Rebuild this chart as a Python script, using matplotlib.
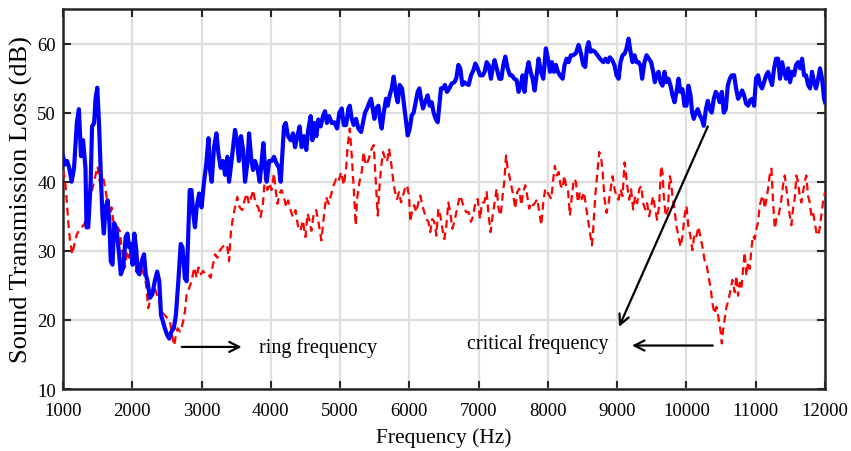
import numpy as np
import matplotlib
matplotlib.use("Agg")
import matplotlib.pyplot as plt

plt.rcParams['font.family'] = ['Liberation Serif', 'DejaVu Serif']

# blue curve (solid)
freq_blue = [1000, 1030, 1060, 1090, 1125, 1160, 1200, 1230, 1260, 1290, 1325, 1340, 1365, 1400, 1420,
             1450, 1470, 1495, 1520, 1550, 1570, 1590, 1615, 1645, 1670, 1690, 1715, 1740, 1775, 1810,
             1835, 1870, 1905, 1930, 1955, 1975, 2005, 2030, 2060, 2075, 2105, 2135, 2170, 2195, 2220,
             2255, 2290, 2325, 2360, 2390, 2415, 2445, 2470, 2505, 2535, 2565, 2600, 2630, 2665, 2700,
             2725, 2760, 2785, 2810, 2830, 2855, 2880, 2905, 2930, 2965, 3000, 3036, 3070, 3100, 3122,
             3147, 3180, 3215, 3245, 3276, 3310, 3340, 3373, 3397, 3430, 3455, 3483, 3512, 3540, 3570,
             3600, 3628, 3662, 3686, 3715, 3743, 3773, 3806, 3840, 3868, 3893, 3917, 3941, 3975, 4013,
             4046, 4080, 4118, 4143, 4167, 4190, 4215, 4248, 4287, 4320, 4350, 4383, 4416, 4445, 4480,
             4512, 4540, 4575, 4600, 4628, 4657, 4686, 4720, 4753, 4782, 4810, 4840, 4880, 4918, 4957,
             4990, 5024, 5053, 5087, 5120, 5140, 5168, 5197, 5230, 5264, 5303, 5332, 5360, 5390, 5423,
             5447, 5470, 5495, 5520, 5553, 5582, 5600, 5630, 5663, 5688, 5716, 5745, 5774, 5808, 5832,
             5860, 5894, 5918, 5947, 5976, 6005, 6034, 6062, 6091, 6120, 6144, 6168, 6197, 6226, 6264,
             6293, 6322, 6350, 6380, 6409, 6432, 6456, 6485, 6514, 6543, 6577, 6610, 6650, 6678, 6707,
             6735, 6765, 6793, 6817, 6856, 6890, 6923, 6952, 6985, 7020, 7058, 7087, 7115, 7144, 7178,
             7202, 7230, 7260, 7298, 7327, 7356, 7385, 7418, 7452, 7480, 7514, 7548, 7577, 7610, 7635,
             7663, 7692, 7721, 7750, 7779, 7808, 7837, 7865, 7900, 7933, 7970, 8000, 8030, 8058, 8087,
             8115, 8144, 8173, 8212, 8240, 8270, 8298, 8332, 8365, 8404, 8442, 8476, 8510, 8538, 8562,
             8587, 8615, 8644, 8678, 8716, 8750, 8800, 8832, 8865, 8894, 8928, 8962, 8990, 9020, 9048,
             9077, 9106, 9135, 9163, 9192, 9221, 9250, 9280, 9308, 9337, 9360, 9394, 9423, 9457, 9490,
             9519, 9543, 9567, 9596, 9625, 9654, 9683, 9711, 9740, 9770, 9798, 9827, 9856, 9885, 9913,
             9942, 9971, 10000, 10028, 10058, 10082, 10105, 10135, 10163, 10192, 10220, 10250, 10280, 10307, 10336,
             10365, 10394, 10423, 10452, 10480, 10510, 10538, 10567, 10596, 10625, 10654, 10688, 10716, 10745, 10774,
             10803, 10832, 10860, 10890, 10918, 10947, 10976, 11005, 11034, 11062, 11091, 11120, 11150, 11178, 11206,
             11235, 11264, 11293, 11322, 11350, 11380, 11408, 11437, 11466, 11495, 11524, 11553, 11582, 11610, 11640,
             11668, 11697, 11726, 11755, 11784, 11812, 11841, 11870, 11900, 11928, 11957, 11986, 12000]
tl_blue = [43.7, 42.5, 43.0, 42.0, 40.0, 42.0, 48.5, 50.5, 43.7, 46.0, 42.0, 33.4, 33.4, 40.0, 48.0,
           48.5, 52.0, 53.6, 48.5, 40.0, 35.0, 32.5, 36.3, 37.3, 34.0, 28.5, 28.0, 34.0, 33.0, 29.5,
           26.6, 27.6, 32.0, 32.5, 30.5, 31.0, 28.0, 32.5, 30.0, 27.0, 26.6, 28.5, 29.5, 26.6, 25.6,
           23.2, 23.7, 25.6, 27.0, 25.6, 20.7, 19.7, 18.8, 17.8, 17.3, 18.3, 18.8, 20.7, 25.6, 31.0,
           30.5, 26.0, 25.6, 33.0, 38.8, 38.8, 35.4, 33.4, 36.3, 38.3, 36.3, 40.0, 42.7, 46.3, 41.7,
           40.0, 45.0, 47.0, 44.0, 42.0, 43.0, 41.0, 43.6, 40.0, 42.7, 45.0, 47.5, 46.0, 43.0, 46.6,
           44.6, 40.0, 42.7, 47.0, 43.6, 41.7, 43.0, 42.0, 40.0, 43.0, 45.6, 42.0, 40.0, 43.0, 43.0,
           43.6, 42.7, 42.0, 40.0, 44.0, 48.0, 48.5, 46.6, 46.0, 47.0, 45.0, 46.6, 48.0, 45.0, 46.6,
           44.6, 47.5, 49.5, 46.0, 48.5, 46.6, 49.0, 48.0, 49.5, 50.2, 48.5, 49.5, 48.5, 48.6, 47.7,
           50.0, 50.6, 48.2, 48.2, 50.6, 51.0, 49.1, 48.2, 49.1, 47.7, 47.2, 48.6, 50.0, 50.6, 51.5,
           52.0, 50.6, 49.1, 50.6, 51.0, 48.6, 47.7, 50.0, 52.0, 51.0, 52.5, 53.5, 55.2, 52.5, 51.5,
           54.0, 53.5, 51.5, 49.1, 46.7, 47.7, 49.6, 50.0, 51.5, 53.0, 53.5, 52.0, 50.6, 51.5, 52.5,
           51.0, 51.5, 50.0, 49.1, 48.6, 51.0, 53.5, 53.5, 54.0, 53.0, 53.5, 54.2, 54.4, 55.0, 56.9,
           56.4, 54.0, 54.4, 54.2, 54.0, 55.4, 56.1, 57.1, 56.4, 55.4, 55.4, 55.9, 57.3, 56.9, 54.9,
           56.4, 57.6, 56.4, 54.9, 54.9, 56.9, 58.1, 56.4, 55.4, 55.4, 54.9, 54.7, 53.0, 54.0, 55.4,
           53.0, 55.9, 57.3, 55.9, 54.9, 53.2, 55.4, 57.8, 55.9, 54.9, 59.3, 57.8, 55.9, 57.3, 55.9,
           56.9, 55.9, 55.4, 54.9, 56.9, 57.8, 57.3, 58.3, 58.3, 58.6, 59.8, 58.6, 56.9, 56.6, 59.3,
           60.2, 58.8, 59.0, 58.8, 58.3, 57.8, 57.3, 57.8, 57.3, 58.0, 57.6, 56.8, 55.4, 54.9, 57.3,
           58.3, 58.5, 59.3, 60.7, 58.8, 57.3, 58.3, 57.3, 57.3, 56.8, 54.9, 57.3, 58.3, 57.8, 57.3,
           55.9, 54.4, 55.4, 55.9, 54.4, 53.9, 55.9, 54.4, 54.9, 53.9, 52.5, 51.5, 53.0, 54.9, 53.0,
           53.4, 51.0, 51.0, 53.9, 52.5, 50.0, 49.1, 50.0, 50.5, 49.6, 49.1, 48.1, 50.5, 51.7, 50.5,
           50.0, 52.0, 53.0, 52.5, 51.5, 53.0, 50.0, 50.5, 53.9, 54.9, 55.4, 55.4, 53.5, 52.0, 52.5,
           53.2, 52.5, 51.3, 51.0, 51.8, 52.0, 51.0, 55.0, 55.4, 54.0, 53.5, 54.4, 55.4, 55.9, 54.9,
           54.0, 56.4, 57.8, 57.8, 54.9, 57.3, 55.9, 54.9, 56.4, 54.4, 55.9, 55.4, 56.9, 57.3, 56.4,
           57.8, 55.4, 55.4, 54.0, 53.5, 55.9, 54.4, 53.5, 54.9, 56.4, 54.9, 52.0, 51.5]

# red curve (dashed)
freq_red = [1000, 1030, 1050, 1075, 1100, 1135, 1165, 1200, 1230, 1270, 1310, 1340, 1390, 1420, 1445,
            1475, 1500, 1525, 1550, 1580, 1605, 1630, 1655, 1680, 1700, 1725, 1760, 1790, 1820, 1845,
            1870, 1895, 1930, 1955, 1990, 2025, 2050, 2075, 2110, 2150, 2185, 2205, 2230, 2255, 2290,
            2325, 2355, 2385, 2420, 2470, 2510, 2545, 2575, 2605, 2630, 2655, 2690, 2710, 2735, 2760,
            2785, 2820, 2855, 2895, 2930, 2955, 2990, 3020, 3060, 3100, 3130, 3165, 3195, 3230, 3260,
            3300, 3340, 3373, 3397, 3425, 3455, 3483, 3515, 3550, 3588, 3620, 3650, 3685, 3718, 3746,
            3780, 3820, 3852, 3886, 3915, 3950, 3982, 4010, 4045, 4070, 4097, 4126, 4155, 4190, 4222,
            4250, 4285, 4318, 4356, 4395, 4428, 4462, 4500, 4530, 4558, 4586, 4620, 4655, 4692, 4730,
            4765, 4798, 4836, 4875, 4908, 4942, 4976, 5015, 5053, 5087, 5110, 5140, 5168, 5197, 5226,
            5245, 5280, 5312, 5340, 5370, 5400, 5428, 5457, 5486, 5514, 5543, 5567, 5590, 5620, 5650,
            5678, 5706, 5735, 5764, 5793, 5822, 5850, 5880, 5908, 5937, 5966, 5995, 6014, 6043, 6070,
            6100, 6130, 6158, 6187, 6215, 6245, 6274, 6302, 6330, 6360, 6390, 6418, 6447, 6476, 6505,
            6534, 6562, 6590, 6620, 6650, 6678, 6707, 6736, 6765, 6793, 6822, 6856, 6890, 6923, 6952,
            6985, 7020, 7048, 7082, 7115, 7144, 7173, 7202, 7230, 7260, 7288, 7318, 7346, 7370, 7395,
            7418, 7442, 7470, 7500, 7528, 7557, 7586, 7615, 7644, 7673, 7700, 7730, 7760, 7788, 7817,
            7846, 7875, 7904, 7933, 7962, 7990, 8020, 8048, 8077, 8100, 8125, 8154, 8183, 8212, 8235,
            8260, 8288, 8317, 8346, 8375, 8404, 8432, 8461, 8490, 8519, 8548, 8577, 8605, 8635, 8654,
            8683, 8710, 8740, 8770, 8790, 8818, 8846, 8875, 8904, 8933, 8962, 8990, 9020, 9048, 9077,
            9106, 9125, 9144, 9173, 9200, 9230, 9260, 9288, 9317, 9346, 9375, 9404, 9432, 9461, 9490,
            9518, 9548, 9576, 9605, 9634, 9654, 9672, 9700, 9730, 9760, 9778, 9798, 9827, 9856, 9885,
            9913, 9942, 9971, 10000, 10028, 10058, 10085, 10115, 10144, 10172, 10200, 10230, 10260, 10288, 10317,
            10346, 10375, 10404, 10432, 10461, 10490, 10510, 10528, 10548, 10577, 10605, 10634, 10663, 10697, 10720,
            10745, 10770, 10793, 10817, 10840, 10865, 10890, 10913, 10937, 10960, 10985, 11010, 11034, 11057, 11082,
            11105, 11130, 11154, 11178, 11200, 11226, 11250, 11274, 11298, 11322, 11346, 11370, 11394, 11418, 11442,
            11466, 11490, 11514, 11538, 11562, 11586, 11610, 11634, 11658, 11682, 11706, 11730, 11754, 11778, 11802,
            11826, 11850, 11874, 11900, 11922, 11946, 11970, 12000]
tl_red = [41.7, 40.2, 37.8, 34.4, 31.5, 29.5, 31.0, 32.4, 32.9, 33.4, 33.9, 34.9, 37.3, 38.8, 39.8,
          41.2, 42.2, 40.2, 39.8, 40.7, 39.3, 37.8, 35.9, 34.4, 36.3, 34.4, 33.4, 33.4, 32.9, 30.5,
          29.0, 27.6, 30.0, 29.0, 30.5, 27.6, 27.1, 27.6, 28.0, 27.1, 26.1, 24.6, 21.7, 22.7, 24.6,
          24.6, 23.7, 22.7, 21.2, 20.7, 20.2, 19.8, 17.8, 16.3, 17.8, 18.8, 18.3, 18.8, 19.8, 21.2,
          23.7, 24.6, 25.6, 27.6, 26.1, 27.6, 26.6, 27.1, 26.6, 26.6, 26.1, 28.0, 29.5, 29.0, 30.0,
          30.5, 31.0, 30.5, 28.5, 32.9, 34.9, 36.3, 37.8, 36.3, 35.9, 37.3, 38.3, 36.8, 37.8, 38.8,
          36.8, 36.3, 34.9, 36.8, 40.7, 38.8, 39.8, 38.8, 41.2, 38.8, 36.8, 38.3, 38.8, 37.8, 36.3,
          37.3, 35.9, 34.9, 35.9, 33.4, 32.9, 34.4, 32.0, 35.4, 34.4, 32.9, 35.4, 35.9, 33.9, 31.5,
          34.9, 37.8, 36.8, 38.3, 39.5, 40.4, 40.0, 41.4, 39.5, 41.9, 45.3, 47.7, 43.8, 39.0, 33.7,
          37.5, 40.0, 41.4, 44.3, 42.4, 42.9, 43.8, 44.8, 45.3, 40.4, 35.1, 39.0, 41.9, 44.3, 43.3,
          42.9, 44.8, 42.9, 40.4, 38.5, 37.5, 38.5, 37.0, 38.0, 39.0, 39.5, 38.0, 34.2, 36.1, 36.6,
          35.6, 37.0, 38.0, 36.6, 35.6, 34.6, 34.2, 32.7, 34.6, 34.2, 32.2, 36.1, 35.1, 33.2, 31.7,
          33.7, 37.0, 35.6, 33.2, 34.2, 35.6, 37.0, 38.0, 37.0, 36.1, 35.6, 35.6, 34.2, 35.1, 37.0,
          37.5, 34.6, 37.0, 37.0, 38.5, 35.1, 32.7, 35.1, 37.0, 39.0, 36.1, 35.1, 38.0, 40.0, 43.8,
          41.9, 40.9, 39.5, 38.0, 36.1, 38.5, 39.0, 36.6, 38.5, 39.5, 38.0, 36.1, 37.0, 36.6, 37.0,
          37.5, 35.6, 33.7, 37.0, 39.0, 38.5, 38.0, 37.5, 40.4, 42.3, 40.9, 41.4, 39.5, 39.0, 40.9,
          39.5, 39.0, 35.1, 38.0, 40.4, 40.0, 37.0, 38.5, 37.5, 38.5, 36.6, 34.6, 32.7, 30.8, 33.2,
          38.0, 40.9, 44.3, 43.3, 41.3, 37.4, 35.5, 36.9, 38.9, 40.8, 38.9, 37.9, 37.4, 38.9, 37.9,
          42.8, 41.3, 39.4, 37.4, 38.9, 36.0, 37.9, 36.9, 38.9, 39.4, 36.9, 36.0, 36.9, 35.0, 36.5,
          37.9, 36.0, 34.5, 36.5, 42.3, 41.3, 37.9, 35.0, 36.0, 40.8, 39.9, 37.9, 36.0, 33.5, 32.1,
          30.6, 32.1, 35.0, 36.5, 33.5, 32.1, 30.1, 32.5, 32.1, 33.5, 32.1, 30.6, 28.7, 28.2, 26.3,
          24.8, 22.4, 20.9, 21.9, 20.4, 18.5, 16.6, 18.5, 19.9, 21.9, 22.8, 24.3, 25.8, 24.0, 26.4,
          23.5, 25.4, 24.5, 27.4, 29.8, 26.4, 28.4, 27.4, 30.3, 32.2, 31.7, 33.2, 34.2, 36.6, 37.5,
          38.0, 36.1, 37.5, 39.0, 40.9, 41.9, 37.0, 33.2, 34.6, 34.6, 36.1, 37.5, 39.5, 40.9, 39.0,
          37.0, 35.1, 33.7, 36.1, 37.5, 40.9, 40.0, 38.0, 37.0, 38.5, 40.0, 40.9, 38.0, 37.0, 35.1,
          35.6, 34.2, 32.7, 32.2, 33.2, 35.1, 37.0, 38.5]

x_ticks = np.arange(1000, 12001, 1000)
y_ticks = np.arange(10, 61, 10)

fig = plt.figure(figsize=(8.51, 4.52), dpi=100)
ax = fig.add_axes([0.074, 0.137, 0.8955, 0.841])

ax.plot(freq_red, tl_red, color='#ff0000', lw=1.6, linestyle=(0, (3.5, 2.2)), zorder=3)
ax.plot(freq_blue, tl_blue, color='#0000ff', lw=3.0, zorder=4)

ax.set_xlim(1000, 12000)
ax.set_ylim(10, 65)
ax.set_xticks(x_ticks)
ax.set_yticks(y_ticks)
ax.tick_params(direction='in', length=6, width=1.5, top=True, right=True,
               labelsize=13.5, colors='#262626', labelcolor='black')
ax.tick_params(axis='x', pad=9)
ax.tick_params(axis='y', pad=5)
ax.grid(True, color='#dedede', lw=1.6)
ax.set_axisbelow(True)
for s in ax.spines.values():
    s.set_linewidth(1.8)
    s.set_color('#262626')

ax.set_xlabel('Frequency (Hz)', fontsize=15.5, labelpad=6)
ax.set_ylabel('Sound Transmission Loss (dB)', fontsize=19, labelpad=3)

# annotations
arrow = dict(arrowstyle='->', color='black', lw=1.6, mutation_scale=18, shrinkA=0, shrinkB=0)
ax.annotate('', xy=(3580, 16.1), xytext=(2715, 16.1), arrowprops=arrow)
ax.text(3830, 16.1, 'ring frequency', fontsize=14.5, va='center', ha='left')
ax.annotate('', xy=(9213, 16.3), xytext=(10380, 16.3), arrowprops=arrow)
ax.text(6830, 16.6, 'critical frequency', fontsize=14.5, va='center', ha='left')
ax.annotate('', xy=(9026, 19.0), xytext=(10308, 48.0), arrowprops=arrow)

fig.savefig('out.png', dpi=100)
